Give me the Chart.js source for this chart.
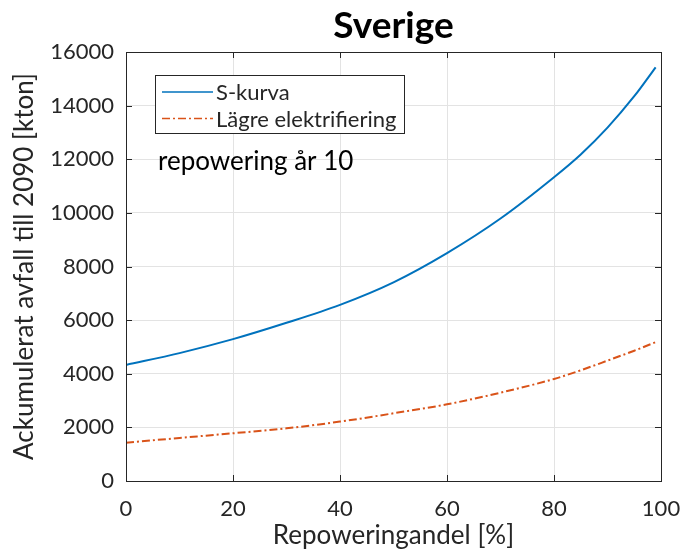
<!DOCTYPE html>
<html>
<head>
<meta charset="utf-8">
<script src="https://cdn.jsdelivr.net/npm/chart.js@4"></script>
<style>
  html, body { margin: 0; padding: 0; background: #fff; }
  #wrap { width: 689px; height: 555px; }
</style>
</head>
<body>
<div id="wrap"><canvas id="chart" width="689" height="555"></canvas></div>
<script>
// values
const repoweringShare = [0, 10, 20, 30, 40, 50, 60, 70, 80, 85, 90, 95, 99];
const sKurva = [4330, 4770, 5290, 5900, 6570, 7410, 8500, 9790, 11330, 12180, 13180, 14350, 15430];
const lagreElektrifiering = [1430, 1605, 1780, 1965, 2215, 2525, 2860, 3295, 3805, 4130, 4490, 4860, 5180];
const xTicks = [0, 20, 40, 60, 80, 100];
const yTicks = [0, 2000, 4000, 6000, 8000, 10000, 12000, 14000, 16000];

const FONT = 'Lato, "Noto Sans", sans-serif';
const AXIS = '#262626';

// box around plot area + inward ticks on all four sides (matlab style), title centred on the axes
const boxPlugin = {
    id: 'box',
    afterDatasetsDraw(chart) {
        const { ctx, chartArea: a, scales } = chart;
        ctx.save();
        ctx.strokeStyle = AXIS;
        ctx.lineWidth = 1;
        ctx.strokeRect(a.left + 0.5, a.top + 0.5, a.right - a.left, a.bottom - a.top);
        const len = 6;
        ctx.beginPath();
        xTicks.forEach(v => {
            const x = Math.round(scales.x.getPixelForValue(v)) + 0.5;
            ctx.moveTo(x, a.bottom); ctx.lineTo(x, a.bottom - len);
            ctx.moveTo(x, a.top); ctx.lineTo(x, a.top + len);
        });
        yTicks.forEach(v => {
            const y = Math.round(scales.y.getPixelForValue(v)) + 0.5;
            ctx.moveTo(a.left, y); ctx.lineTo(a.left + len, y);
            ctx.moveTo(a.right, y); ctx.lineTo(a.right - len, y);
        });
        ctx.stroke();

        ctx.fillStyle = '#000';
        ctx.font = 'bold 37px ' + FONT;
        ctx.textAlign = 'center';
        ctx.textBaseline = 'alphabetic';
        ctx.fillText('Sverige', (a.left + a.right) / 2, 38);
        ctx.restore();
    }
};

// legend box inside the axes and the free text below it
const legendPlugin = {
    id: 'insideLegend',
    afterDraw(chart) {
        const { ctx } = chart;
        ctx.save();
        ctx.fillStyle = '#fff';
        ctx.fillRect(156, 75, 249, 58);
        ctx.strokeStyle = AXIS;
        ctx.lineWidth = 1;
        ctx.strokeRect(155.5, 75.5, 249, 58);
        ctx.font = '22px ' + FONT;
        ctx.textBaseline = 'middle';
        chart.data.datasets.forEach((ds, i) => {
            const y = 92 + i * 26.5;
            ctx.strokeStyle = ds.borderColor;
            ctx.lineWidth = 1.5;
            ctx.setLineDash(ds.borderDash || []);
            ctx.beginPath();
            ctx.moveTo(162, y);
            ctx.lineTo(213, y);
            ctx.stroke();
            ctx.setLineDash([]);
            ctx.fillStyle = AXIS;
            ctx.fillText(ds.label, 216, y + 1);
        });
        ctx.fillStyle = '#000';
        ctx.font = '26px ' + FONT;
        ctx.textBaseline = 'alphabetic';
        ctx.fillText('repowering år 10', 158, 170);
        ctx.restore();
    }
};

const ctx = document.getElementById('chart').getContext('2d');
new Chart(ctx, {
    type: 'line',
    data: {
        datasets: [{
            label: 'S-kurva',
            data: repoweringShare.map((x, i) => ({ x: x, y: sKurva[i] })),
            borderColor: '#0072BD',
            borderWidth: 2,
            pointRadius: 0,
            cubicInterpolationMode: 'monotone'
        }, {
            label: 'Lägre elektrifiering',
            data: repoweringShare.map((x, i) => ({ x: x, y: lagreElektrifiering[i] })),
            borderColor: '#D95319',
            borderWidth: 2,
            borderDash: [8, 3, 2, 3],
            pointRadius: 0,
            cubicInterpolationMode: 'monotone'
        }]
    },
    options: {
        responsive: false,
        animation: false,
        layout: { padding: { left: 5, right: 28, top: 52, bottom: 0 } },
        plugins: {
            legend: { display: false },
            tooltip: { enabled: false },
            title: { display: false }
        },
        scales: {
            x: {
                type: 'linear',
                min: 0,
                max: 100,
                afterBuildTicks: s => { s.ticks = xTicks.map(v => ({ value: v })); },
                afterFit: s => { s.height = 74; s.paddingLeft = 0; s.paddingRight = 0; },
                grid: { color: '#e3e3e3', drawTicks: false },
                border: { color: AXIS },
                ticks: { color: AXIS, padding: 15, maxRotation: 0, font: { family: FONT, size: 22 },
                         callback: v => String(v) },
                title: {
                    display: true,
                    text: 'Repoweringandel [%]',
                    color: AXIS,
                    padding: { top: 4 },
                    font: { family: FONT, size: 26 }
                }
            },
            y: {
                type: 'linear',
                min: 0,
                max: 16000,
                afterBuildTicks: s => { s.ticks = yTicks.map(v => ({ value: v })); },
                afterFit: s => { s.width = 121; s.paddingTop = 0; s.paddingBottom = 0; },
                grid: { color: '#e3e3e3', drawTicks: false },
                border: { color: AXIS },
                ticks: { color: AXIS, padding: 12, font: { family: FONT, size: 22 },
                         callback: v => String(v) },
                title: {
                    display: true,
                    text: 'Ackumulerat avfall till 2090 [kton]',
                    color: AXIS,
                    padding: { bottom: 2 },
                    font: { family: FONT, size: 26 }
                }
            }
        }
    },
    plugins: [boxPlugin, legendPlugin]
});
</script>
</body>
</html>
